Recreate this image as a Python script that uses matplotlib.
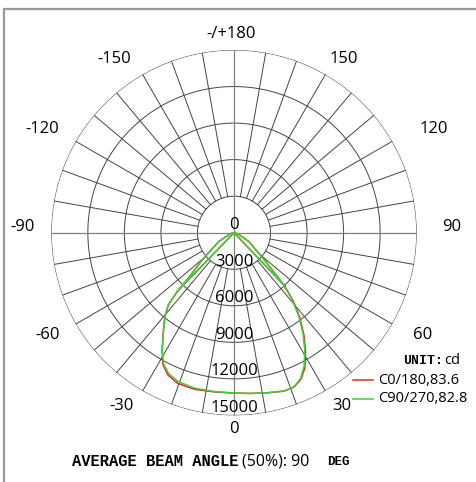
import numpy as np
import matplotlib
matplotlib.use("Agg")
import matplotlib.pyplot as plt
from matplotlib.lines import Line2D
from matplotlib.patches import Rectangle

# ---------------- data ----------------
radial_ticks = [0, 3000, 6000, 9000, 12000, 15000]
angle_labels = ["-/+180", "-150", "150", "-120", "120", "-90", "90", "-60", "60", "-30", "30", "0"]

# C90/270 (green) polyline, degrees (0 = nadir, + to the right) and candela
green_theta = [-44.0, -45.0, -49.6, -60, -75, -90, -44.0, -42.3, -39.4, -35.1, -31.4, -28.4, -25.0,
               -20.5, -14.1, -6.8, 0, 5.9, 11.8, 17.5, 21.3, 24.6, 27.6, 31.1, 34.4, 37.7,
               40.9, 43.6, 47.5, 59, 75, 90, 43.6]
green_cd = [6700, 5300, 3420, 1420, 300, 0, 6700, 8020, 8930, 10100, 11290, 12190, 12740,
            13060, 13170, 13140, 13160, 13260, 13420, 13630, 13570, 13150, 12410, 11250, 10020, 8720,
            7310, 5900, 3530, 1440, 300, 0, 5900]

# C0/180 (red) polyline
red_theta = [-44.0, -45.0, -49.6, -60, -75, -90, -44.0, -42.3, -39.4, -35.1, -31.4, -28.4, -25.0,
             -20.5, -14.1, -6.8, 0, 5.9, 11.8, 17.5, 21.3, 24.6, 27.6, 31.1, 34.4, 37.7,
             40.9, 43.6, 47.5, 59, 75, 90, 43.6]
red_cd = [6700, 5300, 3420, 1420, 300, 0, 6700, 8020, 8950, 10120, 11330, 12280, 12870,
          13210, 13260, 13170, 13170, 13270, 13430, 13640, 13600, 13220, 12540, 11380, 10150, 8850,
          7440, 6020, 3600, 1460, 300, 0, 6020]

legend_labels = ["C0/180,83.6", "C90/270,82.8"]
unit_text = ("UNIT:", "cd")
beam_text = ("AVERAGE BEAM ANGLE", "(50%): 90", "DEG")

# ---------------- layout ----------------
W, H = 477, 482
DPI = 100
fig = plt.figure(figsize=(W / DPI, H / DPI), dpi=DPI)
fig.patch.set_facecolor("white")

def fx(x):
    return x / W

def fy(y):
    return 1 - y / H

cx, cy, R = 234.0, 232.7, 182.7
ax = fig.add_axes([fx(cx - R), fy(cy + R), 2 * R / W, 2 * R / H], projection="polar")
ax.set_theta_zero_location("S")
ax.set_theta_direction(1)
ax.set_ylim(0, 15000)
ax.set_xticks([])
ax.set_yticks([])
ax.grid(False)
ax.spines["polar"].set_visible(False)
ax.set_facecolor("none")

grid_col = "#444444"
th = np.linspace(0, 2 * np.pi, 721)
for rv in radial_ticks[1:]:
    ax.plot(th, np.full_like(th, rv), color=grid_col, lw=0.7, zorder=1)
for a in range(0, 360, 10):
    if a % 90 == 0:
        ax.plot([np.radians(a)] * 2, [0, 15000], color="#808080", lw=0.9, zorder=1)
    else:
        ax.plot([np.radians(a)] * 2, [3000, 15000], color=grid_col, lw=0.7, zorder=1)

red_c, green_c = "#e8261f", "#3ccf3c"
ax.plot(np.radians(red_theta), red_cd, color=red_c, lw=1.1, zorder=3)
ax.plot(np.radians(green_theta), green_cd, color=green_c, lw=1.1, zorder=4)

lab_font = "Open Sans"
for rv in radial_ticks:
    ax.annotate(str(rv), xy=(0, rv), xytext=(0, 7.5), textcoords="offset pixels",
                ha="center", va="center", fontsize=12, family=lab_font, zorder=5)

label_px = [(231, 34), (114, 59), (344, 59), (42, 129), (434, 129), (23, 227), (452, 227),
            (48, 335), (423, 335), (122, 406), (342, 406), (234, 429)]
for t, (x, y) in zip(angle_labels, label_px):
    fig.text(fx(x), fy(y), t, ha="center", va="center", fontsize=12, family=lab_font)

# legend
for col, lab, y in zip([red_c, green_c], legend_labels, [380, 399]):
    fig.add_artist(Line2D([fx(353), fx(373)], [fy(y), fy(y)], color=col, lw=1.1))
    fig.text(fx(378), fy(y), lab, ha="left", va="center", fontsize=10.5, family=lab_font)
fig.text(fx(403), fy(361), unit_text[0], ha="left", va="center", fontsize=9.5,
         family="Liberation Mono", weight="bold")
fig.text(fx(444), fy(360), unit_text[1], ha="left", va="center", fontsize=10.5, family=lab_font)

# beam text
fig.text(fx(72), fy(462), beam_text[0], ha="left", va="center", fontsize=11.2,
         family="Liberation Mono", weight="bold")
fig.text(fx(242), fy(461), beam_text[1], ha="left", va="center", fontsize=11.5, family=lab_font)
fig.text(fx(327), fy(462), beam_text[2], ha="left", va="center", fontsize=9,
         family="Liberation Mono", weight="bold")

# frame
fig.add_artist(Rectangle((fx(4), fy(490)), fx(480), fy(9) - fy(490), fill=False,
                         edgecolor="#9a9a9a", lw=1.6, transform=fig.transFigure))

fig.savefig("out.png", dpi=DPI)
